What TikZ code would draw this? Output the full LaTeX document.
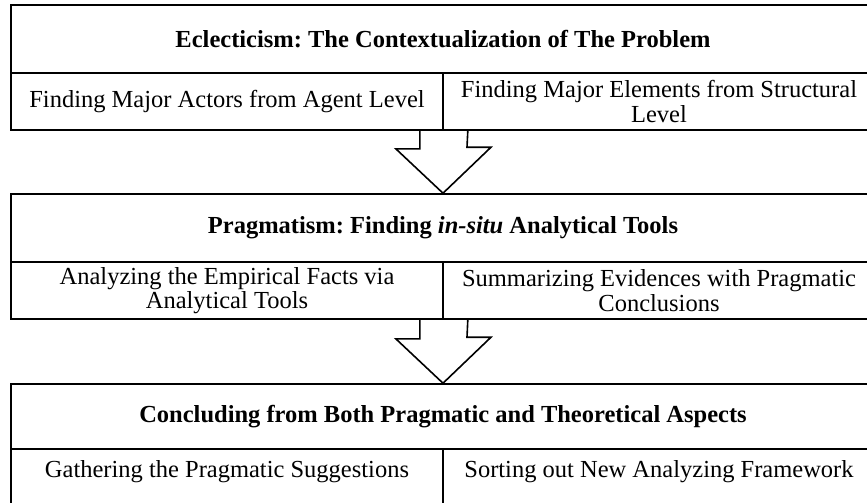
\documentclass[tikz,border=0pt]{standalone}
\usepackage{fontspec}
\setmainfont{Liberation Serif}
\usetikzlibrary{calc}
\frenchspacing
\begin{document}
\begin{tikzpicture}[x=1pt,y=-1pt,
  every node/.style={font=\fontsize{24.5}{24.5}\selectfont},
  frame/.style={draw,line width=1.6pt,rectangle,inner sep=0pt,align=center},
  header/.style={frame,minimum width=864pt,minimum height=68pt,font=\fontsize{24.5}{24.5}\selectfont\bfseries},
  cell/.style={frame,minimum width=432pt,minimum height=57pt},
  blockarrow/.style={draw,line width=1.6pt,line join=miter}]
\useasboundingbox (0,0) rectangle (867,503);
\clip (0,0) rectangle (867,503);
\fill[white] (0,0) rectangle (867,503);

% stage 1
\node[header] (h1) at (443,39) {Eclecticism: The Contextualization of The Problem};
\node[cell] (c1a) at (227,101.5) {Finding Major Actors from Agent Level};
\node[cell] (c1b) at (659,101.5) {Finding Major Elements from Structural\\Level};

% stage 2
\node[header] (h2) at (443,228) {Pragmatism: Finding \textit{in-situ} Analytical Tools};
\node[cell] (c2a) at (227,290.5) {Analyzing the Empirical Facts via\\Analytical Tools};
\node[cell] (c2b) at (659,290.5) {Summarizing Evidences with Pragmatic\\Conclusions};

% stage 3
\node[header,minimum height=65pt] (h3) at (443,416.5) {Concluding from Both Pragmatic and Theoretical Aspects};
\node[cell,text depth=18pt] (c3a) at (227,477.5) {Gathering the Pragmatic Suggestions};
\node[cell,text depth=18pt] (c3b) at (659,477.5) {Sorting out New Analyzing Framework};

% block arrows between stages
\draw[blockarrow] (c1a.south east) ++(-24,0) -- ++(0,18) -- ++(-24,0) -- (h2.north)
  -- ($(h2.north)+(48,-46)$) -- ++(-24,0) -- ($(c1a.south east)+(24,0)$);
\draw[blockarrow] (c2a.south east) ++(-24,0) -- ++(0,19) -- ++(-24,0) -- (h3.north)
  -- ($(h3.north)+(48,-46)$) -- ++(-24,0) -- ($(c2a.south east)+(24,0)$);
\end{tikzpicture}
\end{document}
